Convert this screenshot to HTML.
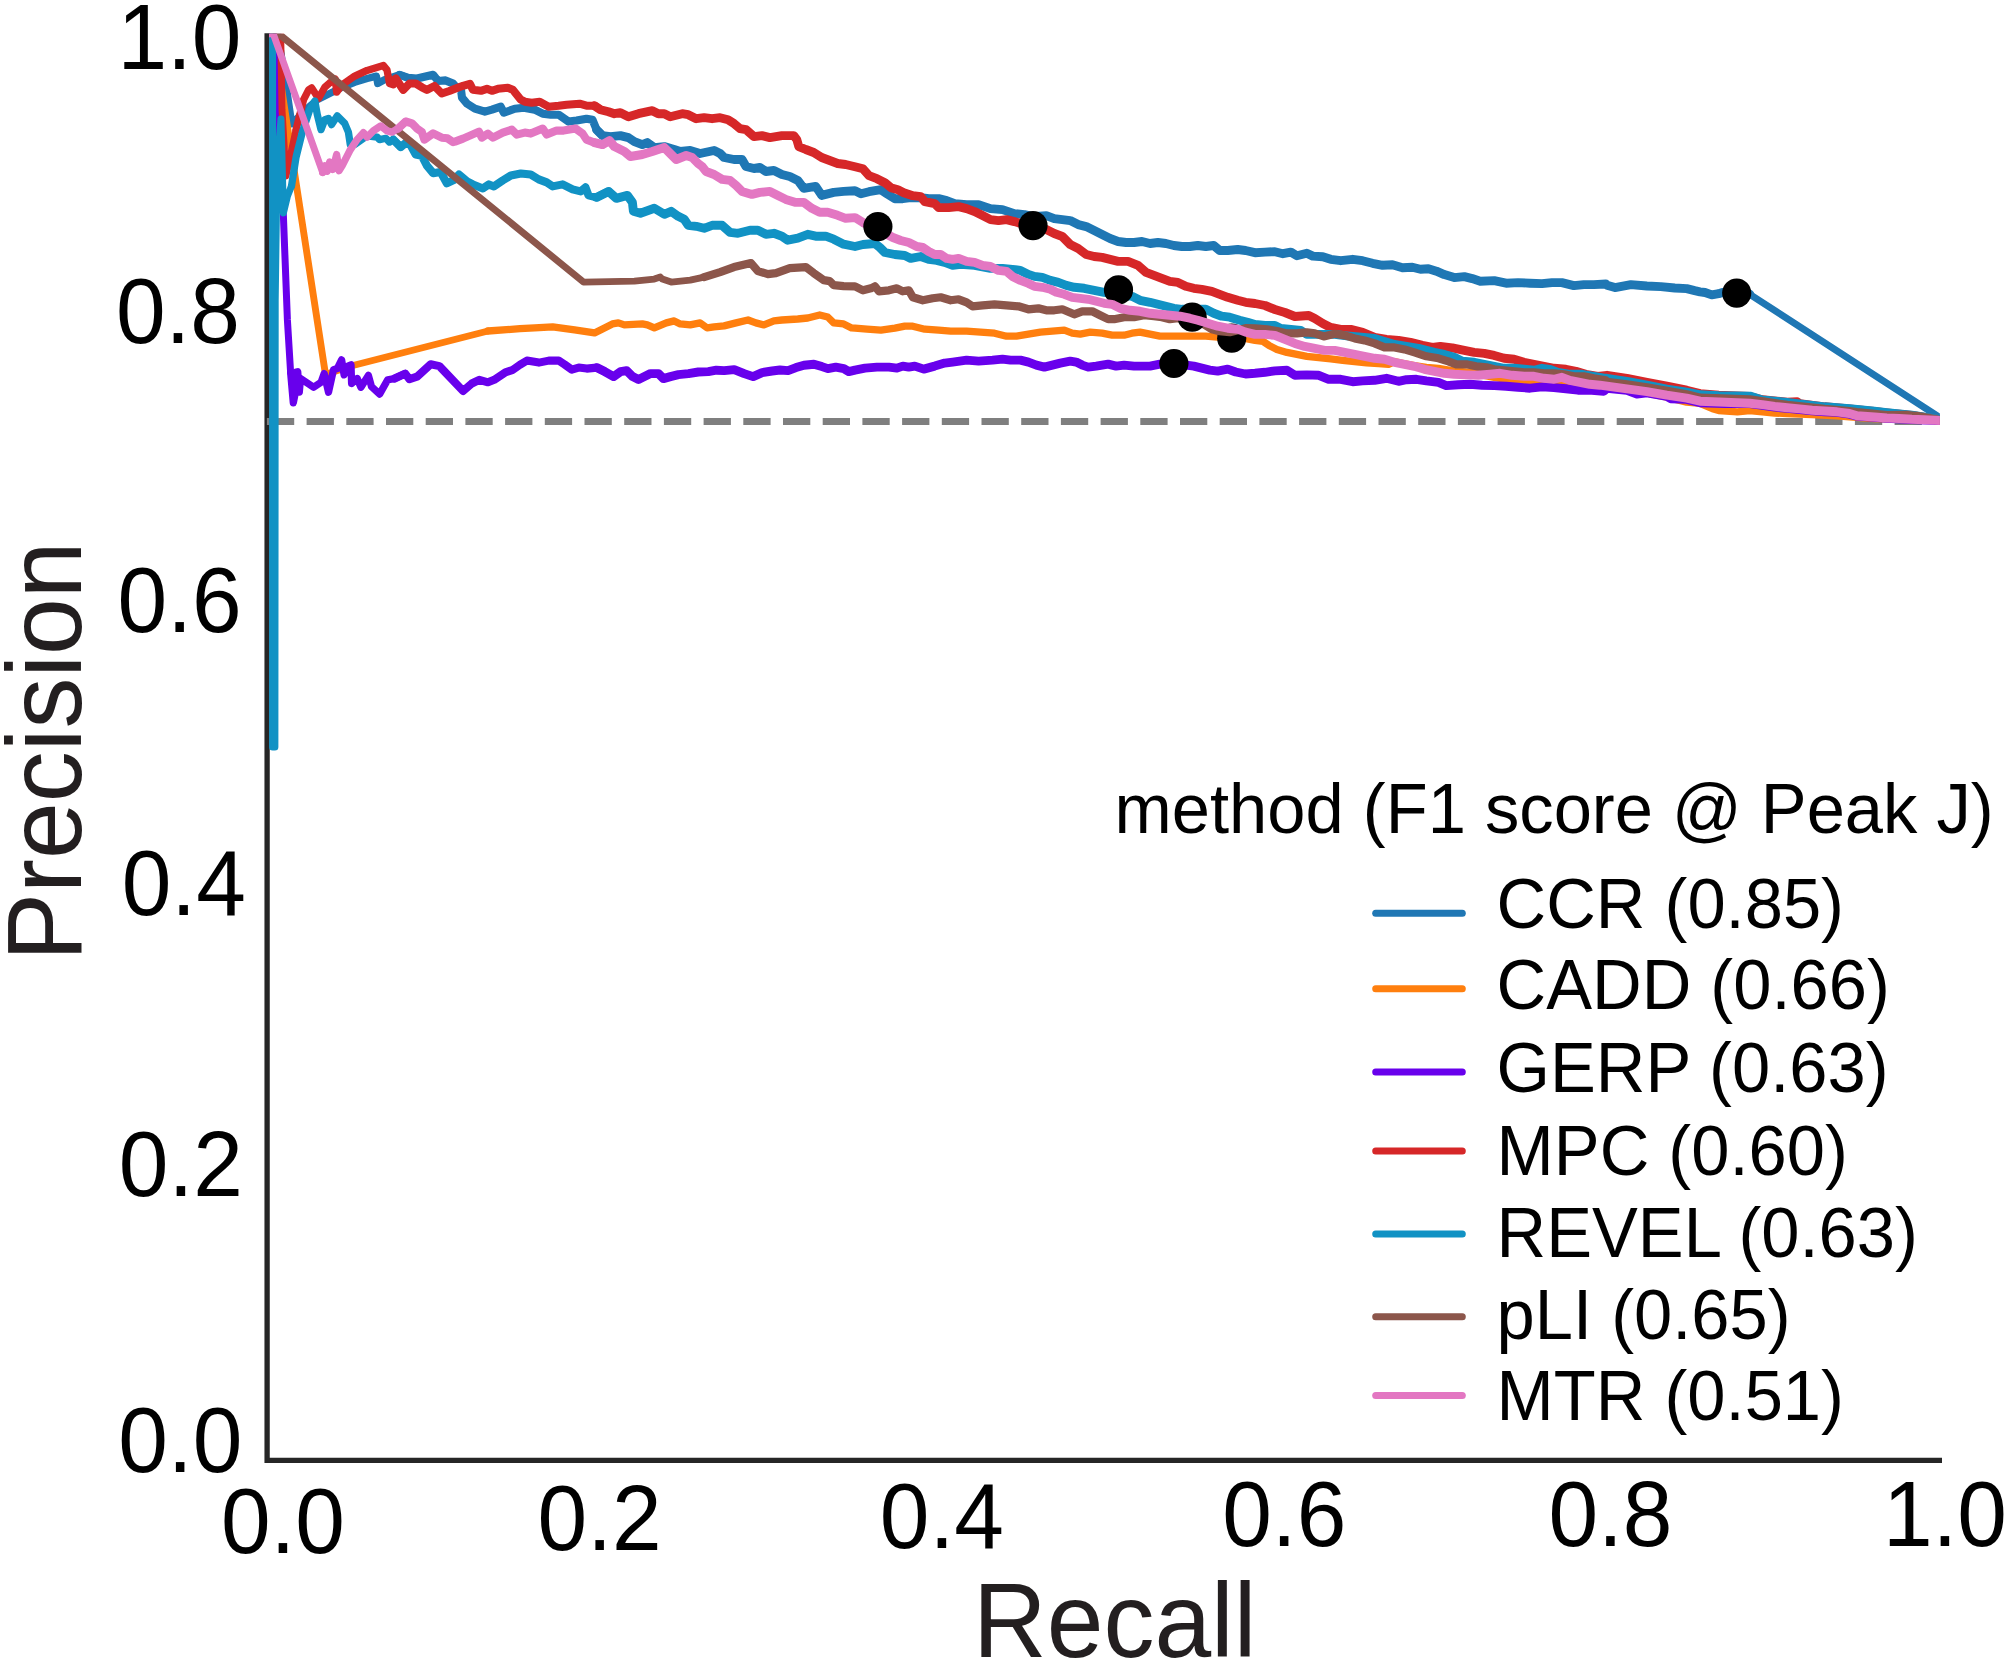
<!DOCTYPE html>
<html><head><meta charset="utf-8"><title>Precision-Recall</title>
<style>
html,body{margin:0;padding:0;background:#fff;}
svg{display:block;}
text{font-family:"Liberation Sans",sans-serif;fill:#000;}
.tick{font-size:89.3px;}
.lab{font-size:102px;fill:#231f20;}
.leg{font-size:68.7px;}
.curves polyline{fill:none;stroke-linejoin:round;}
.legl line{stroke-width:7;stroke-linecap:round;}
</style></head><body>
<svg width="2007" height="1662" viewBox="0 0 2007 1662">
<defs><clipPath id="ax"><rect x="269" y="33.7" width="1670.9" height="1424"/></clipPath></defs>
<rect width="2007" height="1662" fill="#fff"/>

<path d="M267.1,33.3 V1460.4 H1942" fill="none" stroke="#262626" stroke-width="5.3" stroke-linejoin="miter"/>
<line x1="266.9" y1="421.5" x2="1940" y2="421.5" stroke="#7f7f7f" stroke-width="6.8" stroke-dasharray="27.3,12.4"/>
<g class="curves" clip-path="url(#ax)">
<polyline points="267.4,33.7 278,33.7 285.5,80 292,124 300,115" stroke="#1f77b4" stroke-width="6.9" stroke-linecap="round"/>
<polyline points="300,115 308.6,107.2 317.3,99.7 329.7,93.5 342.2,87.3 354.7,82.3 367.1,78.5 376.4,76.1 377.7,83.5 384.5,79.8 392,77.3 399.5,74.8 408.2,77.9" stroke="#1f77b4" stroke-width="7.3" stroke-linecap="round"/>
<polyline points="399.5,74.8 408.2,77.9 416.9,78.5 433.1,74.8 438.1,81 445.6,80.4 453.1,83.5 455,85.8 461,89.8 462,97.7 467,103.7 474.9,108.7 484.9,111.7 491.9,109.7 500.8,106.7 503.8,112.7 514.8,108.7 523.8,107.7 534.7,109.7 542.7,113.7 550.7,114.7 558.6,114.7 568.6,121.6 576.6,120.6 586.5,118.7 592.5,119.7 596.5,129.6 602.5,135.6" stroke="#1f77b4" stroke-width="8.1" stroke-linecap="round"/>
<polyline points="596.5,129.6 602.5,135.6 610.5,136.6 620.4,135.6 628.4,137.6 634.4,141.6 642.3,144.6 647.3,142.6 654.3,147.6 664.3,146.6 674.2,149.5 680.2,151.5 690.2,150.5 700.1,153.5 714.1,150.5 720.1,153.5 724.1,157.5 734,159.5 742,159.5 746,166.5 754,168.5 759.9,167.5 765.9,171.5 773.9,170.5 781.9,174.5 789.8,176.5 797.8,180.4 803.8,188.4 815.7,186.4 821.7,195.4 833.7,192.4 843.6,191.4 855,190.7 861,193.7 869,191.7 880.9,189.7 886.9,193.7 894.9,198.7 902.8,198.7 910.8,197.7 920.8,197.7 928.7,198.7 938.7,198.7 946.7,200.6 954.7,203.6 966.6,204.6 978.6,204.6 990.5,208.6 1002.5,209.6 1014.4,213.6 1024.4,214.6 1033,216.6 1046.3,215.6 1054.3,218.6 1062.3,219.6 1070.2,220.6 1078.2,224.6 1086.2,226.6 1094.2,230.5 1102.1,234.5 1110.1,238.5 1118.1,241.5 1126.1,242.5 1134,242.5 1142,241.5 1150,243.5 1157.9,242.5 1165.9,243.5 1173.9,245.5 1181.9,246.5 1189.8,246.5 1197.8,245.5 1205.8,246.5 1213.7,245.5 1219.7,250.5 1227.7,250.5 1237.7,249.5 1245.6,250.5 1255,252.7 1265,252.1 1274.9,251.7 1282.9,253.7 1290.9,252.1 1296.9,255.7 1306.8,253.3 1312.8,256.1 1322.8,256.7 1330.7,259.3 1340.7,260.7 1352.7,259.3 1362.6,260.7 1372.6,263.3 1382.6,265.3 1392.5,264.7 1402.5,267.7 1412.4,267.3 1420.4,269.3 1428.4,268.7 1436.4,271.2 1444.3,274.6 1454.3,277.6 1464.3,276.6 1472.2,278.6 1480.2,281.2 1494.2,280.6 1506.1,283.2 1518.1,282.6 1530,283.2 1542,283.6 1552,282.6 1561.9,282.6 1573.9,285.6 1583.8,284.6 1593.8,284.6 1605.8,284 1607,285.2 1615,287.6 1630.9,284.6 1646.9,286 1660.8,286.6 1674.8,288 1686.7,288.6 1694.7,290.6 1700,291.8 1705,292.5 1711.8,294.9 1718.7,293.7 1722.4,292.5 1736.7,293.1 1749.8,294.3" stroke="#1f77b4" stroke-width="8.9" stroke-linecap="round"/>
<polyline points="1749.8,294.3 1939.8,417.6" stroke="#1f77b4" stroke-width="6.9" stroke-linecap="round"/>
<circle cx="1736.7" cy="293.1" r="14.6" fill="#000"/>
<polyline points="267.4,33.7 273.2,33.7 325.5,374.5 351,366 488,331" stroke="#ff7f0e" stroke-width="6.9" stroke-linecap="round"/>
<polyline points="488,331 520,328.7 534.7,327.9 552.7,326.9 574.6,329.9 594.5,332.9 602.5,328.9 612.4,323.9 618.4,322.9 624.4,324.9 642.3,323.9 647.3,324.9 654.3,327.9 666.3,322.9 674.2,320.9 680.2,323.9 690.2,324.9 700.1,322.9 707.1,327.9 714.1,326.9 724.1,325.9 736,322.9 748,320 755.9,322.9 763.9,324.9 773.9,320.9 781.9,320 797.8,319 807.8,318 819.7,315 827.7,317 833.7,322.9 843.6,323.9 851.6,327.9 855,328.2 867,329.2 880.9,330.2 894.9,328.2 904.8,326.2 912.8,326.2 924.8,329.2 938.7,330.2 950.7,331.2 966.6,331.2 980.6,332.2 994.5,333.2 1006.5,336.2 1016.4,336.2 1028.4,334.2 1040.4,332.2 1052.3,331.2 1064.3,330.2 1072.2,333.2 1080.2,334.2 1090.2,332.2 1102.1,333.2 1112.1,335.2 1124.1,335.2 1132,333.2 1140,332.2 1150,334.2 1159.9,336.2 1169.9,336.2 1183.8,336.2 1193.8,336.2 1205.8,336.2 1217.7,337.2 1231.7,338.2 1243.6,338.2 1255,340.4 1263,341.4 1269,345.4 1276.9,349.4 1286.9,352.4 1296.9,354.4 1306.8,356.3 1318.8,357.7 1330.7,358.9 1342.7,360.3 1354.7,361.7 1366.6,362.9 1378.6,363.7 1388.5,364.3 1394.5,361.7 1402.5,363.3 1414.4,365.7 1426.4,367.3 1438.4,368.3 1450.3,370.3 1462.3,371.7 1474.2,372.9 1484.2,375.3 1494.2,377.3 1506.1,379.3 1518.1,381.3 1530,382.9 1542,382.9 1554,382.3 1561.9,381.3 1573.9,383.3 1593.8,386.2 1607,387.2 1646.9,393.2 1666.8,397.2 1686.7,402.2 1700,403.3 1712.5,408.7 1718.7,410.5 1737.4,411.8 1749.8,410.5 1762.3,411.8 1774.7,413 1787.2,413.7 1812.1,414.5 1837,415.8 1849.5,416.8 1874.4,418.5 1939.8,420.5" stroke="#ff7f0e" stroke-width="7.3" stroke-linecap="round"/>
<circle cx="1231.7" cy="338.2" r="14.6" fill="#000"/>
<polyline points="267.4,33.7 273.4,33.7 283.4,216 287.4,320 290.6,372.3" stroke="#6800ec" stroke-width="7.0" stroke-linecap="round"/>
<polyline points="290.6,372.3 293.3,402.8 294.9,394.7 295.5,372.3 297.7,371.7 299.3,392.2 300.5,378.5 313.6,387.3 321.1,382.3 324.2,373.6 328.5,392.2 333.5,369.8 337.3,368.6 341.6,359.9 344.1,374.8 347.9,366.1 351,364.8 351.6,383.5 357.2,378.5 360.9,387.3 368.4,375.4 371.5,386.6 379.6,394.1 387.7,379.8 394.6,378.5 405.2,373.6" stroke="#6800ec" stroke-width="7.3" stroke-linecap="round"/>
<polyline points="394.6,378.5 405.2,373.6 409.5,379.2 417,376.7 430.7,364.2 439.4,366.1 463.1,391 471.8,383.5 479.3,379.8 488,382.3 494.2,379.8 505.4,372.3 512.9,369.8 520,364.8 526.9,360.6 538.9,362.6 548.8,360.6 558.8,360.6 564.8,364.6 571.8,369.6 578.7,367.6 586.7,368.6 596.7,367.6 604.7,371.6" stroke="#6800ec" stroke-width="8.1" stroke-linecap="round"/>
<polyline points="596.7,367.6 604.7,371.6 613.6,376.6 620.6,371.6 626.6,370.6 632.6,376.6 638.5,379.5 644.5,376.6 650.5,373.6 658.5,373.6 663.4,378.6 670.4,376.6 678.4,374.6 688.4,373.6 698.3,372 708.3,371.6 716.3,370.2 724.2,370.6 734.2,369.6 744.2,373.6 753.1,376.6 762.1,372.6 772.1,371 780,370 788,370.6 796,367.6 804,365.2 813.9,364.2 821.9,366.6 827.9,368.6 835.8,367.2 843.8,368.6 848.8,371.6 855,370.1 865,368.1 876.9,367.1 888.9,367.1 896.9,368.1 902.8,366.1 908.8,367.1 914.8,366.1 923.8,369.1 934.7,366.1 944.7,363.1 952.7,362.1 966.6,360.1 978.6,361.1 992.5,360.1 1002.5,359.1 1010.5,360.1 1020.4,360.1 1028.4,362.1 1036.4,365.1 1044.3,367.1 1052.3,365.1 1060.3,363.1 1070.2,361.1 1076.2,362.1 1082.2,365.1 1088.2,367.1 1096.2,366.1 1108.1,364.1 1116.1,366.1 1124.1,365.1 1134,366.1 1142,366.1 1150,366.1 1159.9,364.1 1173.9,363.5 1193.8,366.1 1201.8,368.1 1209.8,370.1 1217.7,371.1 1227.7,369.1 1235.7,372 1245.6,374 1255,373.3 1265,372.3 1274.9,370.9 1286.9,370.3 1294.9,375.3 1306.8,374.9 1318.8,375.3 1328.7,379.3 1340.7,379.3 1352.7,381.7 1362.6,380.9 1374.6,380.3 1386.5,378.3 1398.5,381.3 1406.5,379.7 1416.4,379.3 1426.4,380.9 1438.4,382.3 1446.3,385.6 1458.3,384.8 1470.2,384.3 1482.2,385.2 1494.2,385.6 1506.1,386.2 1518.1,387.2 1530,388.2 1542,386.8 1554,387.6 1565.9,388.8 1577.9,390.2 1591.8,390.2 1603.8,391.2 1607,388.4 1626.9,390.4 1636.9,394 1646.9,392.8 1666.8,396.4 1670.8,398.8 1686.7,399.4 1700,402.7 1724.9,403.6 1749.8,403.6 1762.3,405.3 1774.7,407.1 1787.2,408.3 1799.7,409.5 1812.1,410.8 1824.6,411.7 1837,412.4 1849.5,414.2 1857,416.1 1874.4,417.4 1886.8,418.3 1911.8,419.5 1939.8,420.5" stroke="#6800ec" stroke-width="8.9" stroke-linecap="round"/>
<circle cx="1173.9" cy="363.5" r="14.6" fill="#000"/>
<polyline points="267.4,33.7 280.7,33.7 282,110 286,176 296,130" stroke="#d62728" stroke-width="6.9" stroke-linecap="round"/>
<polyline points="296,130 303.6,99.7 308.6,89.8 311.7,87.9 318.5,98.5 324.8,87.3 329.7,82.9 335.3,79.2 336.6,92.2 342.2,84.8 354.7,76.1 367.1,70.4 383.3,65.5 387,69.8 389.5,83.5 393.3,84.8 395.8,78.5 403.2,89.8" stroke="#d62728" stroke-width="7.3" stroke-linecap="round"/>
<polyline points="395.8,78.5 403.2,89.8 409.5,83.5 415.7,83.5 421.9,87.3 426.9,89.8 434.4,86 441.8,93.5 449.3,91 455,88.8 463,85.8 469.9,83.8 472.9,89.8 480.9,90.8 486.9,88.8 491.9,90.8 497.9,88.8 507.8,87.8 512.8,89.8 520.8,99.7 524.8,101.7 531.7,102.7 539.7,101.7 548.7,106.7 558.6,105.7 566.6,104.7 579.6,103.7 586.5,105.7 594.5,105.7 600.5,109.7" stroke="#d62728" stroke-width="8.1" stroke-linecap="round"/>
<polyline points="594.5,105.7 600.5,109.7 608.5,111.7 614.4,113.7 620.4,112.7 628.4,116.7 638.4,113.7 652.3,110.7 658.3,113.7 664.3,113.7 670.2,116.7 682.2,113.7 688.2,114.7 696.2,118.7 704.1,117.7 712.1,118.7 720.1,117.7 728,119.7 734,123.6 740,128.6 746,129.6 754,136.6 761.9,135.6 769.9,137.6 781.9,135.6 793.8,135.6 796.8,139.6 798.8,146.6 805.8,149.5 813.7,152.5 821.7,157.5 829.7,160.5 837.7,163.5 845.6,164.5 855,166.8 863,168.8 869,175.7 876.9,178.7 884.9,182.7 890.9,187.7 897.9,189.7 903.8,192.7 912.8,195.7 920.8,196.7 924.8,201.6 934.7,203.6 938.7,207.6 948.7,207.6 958.6,206.6 966.6,208.6 974.6,211.6 982.6,215.6 990.5,219.6 998.5,220.6 1006.5,219.6 1014.4,221.6 1024.4,224.6 1033,225.6 1046.3,229.5 1054.3,233.5 1062.3,236.5 1070.2,244.5 1078.2,248.5 1086.2,254.5 1094.2,256.5 1102.1,257.4 1110.1,259.4 1118.1,261.4 1128,261.4 1138,265.4 1146,272.4 1154,275.4 1161.9,278.4 1169.9,281.4 1177.9,282.4 1185.8,286.3 1193.8,288.3 1201.8,289.3 1211.8,291.3 1219.7,294.3 1227.7,297.3 1237.7,300.3 1245.6,302.3 1255,303.5 1265,305.5 1274.9,309.5 1284.9,312.5 1294.9,316.5 1308.8,315.5 1314.8,318.5 1322.8,323.5 1330.7,327.4 1340.7,329.4 1350.7,329.4 1362.6,332.4 1374.6,337.4 1386.5,339.4 1398.5,340.4 1410.5,342.4 1422.4,345.4 1432.4,347.4 1440.4,346.4 1452.3,347.8 1464.3,350.4 1474.2,352.4 1484.2,353.4 1494.2,355.4 1504.1,358.3 1514.1,359.3 1524.1,362.3 1534,364.3 1544,366.3 1554,368.3 1565.9,369.3 1575.9,371.3 1585.8,374.3 1597.8,376.3 1607,375.3 1626.9,378.3 1646.9,382.3 1666.8,386.2 1686.7,390.2 1700,393.6 1718.7,395.2 1749.8,396.5 1762.3,399.8 1787.2,402.1 1797.2,401.8 1799.7,403.6 1824.6,406.8 1849.5,408.9 1874.4,411.4 1886.8,412.9 1911.8,415.4 1939.8,419.8" stroke="#d62728" stroke-width="8.9" stroke-linecap="round"/>
<circle cx="1033" cy="225.6" r="14.6" fill="#000"/>
<polyline points="267.4,33.7 272.6,33.7 272.6,747 274.9,747 275.2,300 277,170 281,119 283.4,213 287.5,196 291.5,186" stroke="#1192c4" stroke-width="7.0" stroke-linecap="round"/>
<polyline points="291.5,186 296.1,157 302.3,132.1 309.8,109.7 314.8,101 317.3,114.7 321,129.6 324.8,119.7 328.5,118.4 331.6,124.6 337.2,115.9 344.7,123.4 348.4,132.1 350.3,144.6 354.7,144.6 367.1,135.8 377.1,137.1 379.6,139.6 385.8,138.3 389.5,142.1 393.3,139.6 400.7,147.1" stroke="#1192c4" stroke-width="7.3" stroke-linecap="round"/>
<polyline points="393.3,139.6 400.7,147.1 408.2,140.8 415.7,154.5 421.9,155.8 426.9,165.7 433.1,173.2 440.6,172 446.8,183.2 453.7,180.1 459,174.5 467,181.4 472.9,184.4 482.9,188.4 488.9,184.4 493.9,186.4 502.8,180.4 510.8,175.5 520.8,173.5 530.7,174.5 538.7,179.4 546.7,182.4 552.7,186.4 562.6,184.4 566.6,186.4 572.6,189.4 580.6,191.4 585.5,187.4 588.5,195.4 596.5,197.4 608.5,191.4" stroke="#1192c4" stroke-width="8.1" stroke-linecap="round"/>
<polyline points="596.5,197.4 608.5,191.4 616.4,198.4 627.4,195.4 632.4,202.4 633.4,211.3 640.4,213.3 654.3,208.3 664.3,214.3 671.2,211.3 678.2,216.3 684.2,219.3 688.2,225.3 696.2,226.3 704.1,228.3 712.1,225.3 722.1,225.3 730,232.3 738,233.3 750,230.3 757.9,230.3 765.9,234.3 773.9,233.3 781.9,236.2 787.8,240.2 797.8,238.2 807.8,234.3 815.7,236.2 825.7,236.2 833.7,239.2 843.6,244.2 855,246.5 863,244.5 874.9,243.5 879.9,247.5 884.9,252.5 894.9,254.5 904.8,255.5 910.8,258.4 920.8,256.5 928.7,259.4 936.7,260.4 944.7,262.4 952.7,265.4 960.6,264.4 974.6,265.4 990.5,268.4 1002.5,268.4 1012.4,269.4 1020.4,270.4 1028.4,274.4 1034.4,276.4 1042.3,277.4 1050.3,280.4 1058.3,282.4 1066.3,285.4 1074.2,287.3 1084.2,288.3 1094.2,290.3 1104.1,292.3 1118.1,294.3 1132,296.3 1140,300.3 1150,302.3 1157.9,304.3 1165.9,306.3 1173.9,308.3 1181.9,309.3 1193.8,309.3 1205.8,309.3 1213.7,313.3 1221.7,316.2 1229.7,317.2 1239.7,320.2 1247.6,322.2 1255,324.5 1265,325.5 1274.9,325.5 1280.9,328.4 1290.9,329.4 1300.8,330.4 1306.8,334.4 1318.8,334.4 1334.7,334.4 1346.7,335.8 1358.6,337 1374.6,338.4 1384.5,341.4 1394.5,344.4 1406.5,346.4 1418.4,348.4 1426.4,350.4 1434.4,352.4 1444.3,354.4 1454.3,357.3 1462.3,361.3 1474.2,362.3 1484.2,364.3 1494.2,366.3 1504.1,368.3 1514.1,368.3 1524.1,369.3 1534,370.3 1542,368.3 1550,369.3 1557.9,372.3 1569.9,374.3 1581.9,374.3 1593.8,376.3 1605.8,378.3 1607,378.3 1626.9,381.3 1646.9,385.2 1666.8,389.2 1686.7,392.2 1700,394.8 1718.7,395.6 1749.8,396.1 1762.3,400 1787.2,402.4 1824.6,406.8 1849.5,408.7 1874.4,411.2 1886.8,412.7 1911.8,415.2 1939.8,419.5" stroke="#1192c4" stroke-width="8.9" stroke-linecap="round"/>
<circle cx="1118.5" cy="289.9" r="14.6" fill="#000"/>
<polyline points="276,31.6 278.6,33.7 583.6,282.1 634.4,281.1 654.3,279.1 660.3,277.1 662.3,279.1 671.2,282.1 690.2,280.1 704.1,277.1" stroke="#8c564b" stroke-width="6.9" stroke-linecap="round"/>
<polyline points="704.1,277.1 720.1,272.1 734,267.1 751,263.1 757.9,271.1 767.9,274.1 775.9,273.1 789.8,268.1 805.8,267.1 813.7,273.1 823.7,280.1 829.7,281.1 833.7,285.1 843.6,286.1 855,286.3 863,290.3 870.9,288.3 874.9,286.3 878.9,291.3 888.9,290.3 896.9,288.3 902.8,291.3 908.8,290.3 912.8,297.3 922.8,300.3 932.7,298.3 940.7,297.3 950.7,300.3 958.6,299.3 966.6,302.3 972.6,306.3 982.6,305.3 994.5,304.3 1006.5,305.3 1018.4,306.3 1028.4,309.3 1038.4,308.3 1046.3,310.3 1054.3,310.3 1062.3,309.3 1074.2,314.3 1082.2,311.3 1092.2,311.3 1100.1,315.2 1108.1,319.2 1114.1,319.2 1124.1,317.2 1134,317.2 1144,315.2 1154,316.2 1161.9,317.2 1169.9,319.2 1177.9,318.2 1185.8,319.2 1193.8,321.2 1203.8,324.2 1211.8,329.2 1219.7,331.2 1229.7,332.2 1237.7,330.2 1245.6,328.2 1255,328.4 1267,329.4 1276.9,331 1286.9,333.4 1296.9,333.4 1306.8,332.4 1314.8,333.4 1323.8,336.4 1334.7,333.8 1344.7,335.4 1354.7,338.4 1364.6,340.4 1374.6,343.4 1384.5,347.4 1394.5,347.4 1404.5,349.4 1414.4,352.4 1426.4,356.3 1438.4,358.3 1448.3,361.3 1456.3,364.3 1466.3,364.3 1476.2,366.3 1486.2,367.3 1494.2,369.3 1504.1,370.3 1514.1,371.3 1524.1,372.3 1534,372.3 1544,373.3 1554,373.3 1563.9,374.3 1573.9,376.3 1583.8,376.3 1593.8,378.3 1605.8,380.3 1607,381.7 1626.9,384.3 1646.9,387.2 1666.8,390.8 1686.7,394.2 1700,397.7 1749.8,399.3 1787.2,404.9 1824.6,408.9 1849.5,411 1857,412 1874.4,413.9 1886.8,415.2 1905.5,414.9 1918,416 1939.8,419.8" stroke="#8c564b" stroke-width="8.2" stroke-linecap="round"/>
<circle cx="1192.2" cy="317.2" r="14.6" fill="#000"/>
<polyline points="267.4,33.7 273.2,33.7 322.7,172.5" stroke="#e377c2" stroke-width="6.9" stroke-linecap="round"/>
<polyline points="322.7,172.5 324.8,165.7 327.2,171.3 329.7,162 332.9,169.5 336.6,154.5 339.1,170.7 342.2,165.7 349.7,150.8 357.1,139.6 363.4,132.7 367.1,137.1 373.3,130.9 380.8,125.9 387,130.9 392,132.1 398.2,128.4 405.7,121.5" stroke="#e377c2" stroke-width="7.3" stroke-linecap="round"/>
<polyline points="398.2,128.4 405.7,121.5 412,123.4 416.9,128.4 421.9,132.1 424.4,139.6 433.1,133.4 441.8,137.7 447.5,138.3 453.1,142.1 455,141.6 463,138.6 469.9,135.6 478.9,131.6 481.9,137.6 487.9,133.6 492.9,137.6 502.8,132.6 511.8,129.6 516.8,134.6 524.8,132.6 530.7,133.6 542.7,128.6 546.7,134.6 556.6,130.6 563.6,130.6 575.6,128.6 582.6,133.6 586.5,139.6 594.5,142.6 602.5,144.6" stroke="#e377c2" stroke-width="8.1" stroke-linecap="round"/>
<polyline points="594.5,142.6 602.5,144.6 609.5,140.6 614.4,146.6 624.4,151.5 630.4,156.5 642.3,154.5 652.3,151.5 664.3,147.6 670.2,153.5 676.2,159.5 686.2,155.5 692.2,157.5 698.1,163.5 702.1,166.5 706.1,171.5 714.1,174.5 722.1,179.4 730,180.4 736,185.4 742,191.4 752,194.4 759.9,192.4 769.9,191.4 777.9,195.4 785.8,199.4 795.8,202.4 803.8,202.4 811.8,208.3 819.7,212.3 827.7,212.3 837.7,215.3 845.6,218.3 855,217.6 863,222.6 877.9,229.5 892.9,237.5 900.8,240.5 908.8,242.5 916.8,246.5 922.8,247.5 928.7,251.5 934.7,254.5 940.7,254.5 946.7,258.4 952.7,259.4 958.6,258.4 966.6,261.4 974.6,262.4 982.6,265.4 990.5,266.4 998.5,270.4 1006.5,271.4 1012.4,276.4 1020.4,280.4 1028.4,283.4 1034.4,286.3 1042.3,287.3 1050.3,289.3 1056.3,292.3 1064.3,294.3 1072.2,297.3 1080.2,298.3 1088.2,299.3 1096.2,301.3 1104.1,303.3 1112.1,304.3 1120.1,308.3 1130,310.3 1140,311.3 1150,313.3 1159.9,314.3 1169.9,315.2 1179.9,316.2 1189.8,318.2 1197.8,320.2 1207.8,323.2 1217.7,326.2 1227.7,328.2 1237.7,329.2 1245.6,332.2 1255,334.4 1265,334.4 1274.9,335.4 1284.9,339.4 1294.9,343.4 1304.8,346.4 1314.8,348.4 1324.8,350.4 1334.7,350.4 1344.7,352.4 1354.7,354.4 1364.6,356.3 1374.6,358.3 1384.5,359.3 1394.5,362.3 1404.5,364.3 1414.4,366.3 1424.4,369.3 1434.4,371.3 1444.3,373.3 1454.3,374.3 1466.3,374.9 1478.2,375.3 1490.2,374.3 1500.1,373.3 1512.1,375.3 1524.1,376.3 1534,376.3 1544,378.3 1554,379.3 1561.9,377.3 1569.9,380.3 1579.9,382.3 1589.8,384.3 1599.8,385.2 1607,386.2 1626.9,388.8 1646.9,391.6 1666.8,395.2 1686.7,398.2 1700,401.2 1724.9,402.3 1749.8,403.3 1762.3,404.6 1774.7,406.4 1787.2,407.7 1799.7,408.9 1812.1,410.2 1824.6,411 1837,411.8 1849.5,413.5 1857,415.8 1874.4,417 1886.8,418 1899.3,418.5 1911.8,419.3 1924.2,419.8 1939.8,420.5" stroke="#e377c2" stroke-width="8.9" stroke-linecap="round"/>
<circle cx="877.9" cy="226.6" r="14.6" fill="#000"/>
</g>
<text class="tick" transform="translate(117.4 69.4) scale(1 1.035)">1.0</text>
<text class="tick" transform="translate(115.9 343) scale(1 1.035)">0.8</text>
<text class="tick" transform="translate(117.6 631.7) scale(1 1.035)">0.6</text>
<text class="tick" transform="translate(121.7 915.2) scale(1 1.035)">0.4</text>
<text class="tick" transform="translate(118.8 1196) scale(1 1.035)">0.2</text>
<text class="tick" transform="translate(118.2 1471.5) scale(1 1.035)">0.0</text>
<text class="tick" transform="translate(220.9 1552.6) scale(1 1.035)">0.0</text>
<text class="tick" transform="translate(537.6 1549.6) scale(1 1.035)">0.2</text>
<text class="tick" transform="translate(879.8 1548.4) scale(1 1.035)">0.4</text>
<text class="tick" transform="translate(1222.2 1546.4) scale(1 1.035)">0.6</text>
<text class="tick" transform="translate(1548.4 1546.4) scale(1 1.035)">0.8</text>
<text class="tick" transform="translate(1882.9 1546.4) scale(1 1.035)">1.0</text>
<text class="lab" transform="translate(973 1656.8) scale(1 1.035)">Recall</text>
<text class="lab" transform="translate(80.6 961) rotate(-90) scale(1 1.035)">Precision</text>
<text class="leg" transform="translate(1114.6 832.9) scale(1 1.035)">method (F1 score @ Peak J)</text>
<g class="legl">
<line x1="1375.7" y1="913.2" x2="1462.3" y2="913.2" stroke="#1f77b4"/>
<line x1="1375.7" y1="988.8" x2="1462.3" y2="988.8" stroke="#ff7f0e"/>
<line x1="1375.7" y1="1072.0" x2="1462.3" y2="1072.0" stroke="#6800ec"/>
<line x1="1375.7" y1="1150.9" x2="1462.3" y2="1150.9" stroke="#d62728"/>
<line x1="1375.7" y1="1233.9" x2="1462.3" y2="1233.9" stroke="#1192c4"/>
<line x1="1375.7" y1="1316.8" x2="1462.3" y2="1316.8" stroke="#8c564b"/>
<line x1="1375.7" y1="1395.6" x2="1462.3" y2="1395.6" stroke="#e377c2"/>
</g>
<text class="leg" transform="translate(1496.6 928.3) scale(1 1.035)">CCR (0.85)</text>
<text class="leg" transform="translate(1496.6 1009.4) scale(1 1.035)">CADD (0.66)</text>
<text class="leg" transform="translate(1496.6 1092.4) scale(1 1.035)">GERP (0.63)</text>
<text class="leg" transform="translate(1496.6 1174.5) scale(1 1.035)">MPC (0.60)</text>
<text class="leg" transform="translate(1496.6 1257.0) scale(1 1.035)">REVEL (0.63)</text>
<text class="leg" transform="translate(1496.6 1338.8) scale(1 1.035)">pLI (0.65)</text>
<text class="leg" transform="translate(1496.6 1420.1) scale(1 1.035)">MTR (0.51)</text>
</svg></body></html>
